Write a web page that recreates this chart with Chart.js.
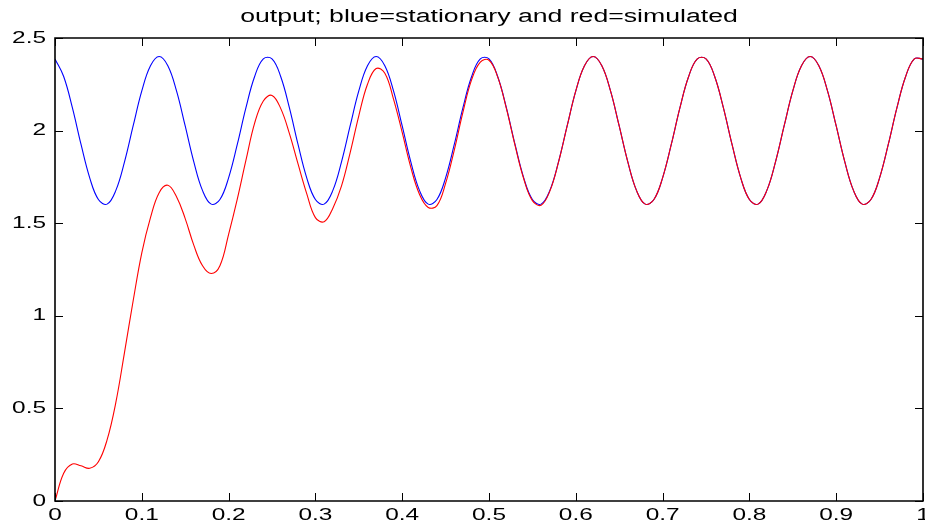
<!DOCTYPE html>
<html>
<head>
<meta charset="utf-8">
<title>output; blue=stationary and red=simulated</title>
<script src="https://cdn.jsdelivr.net/npm/chart.js@4"></script>
<style>
  html, body { margin: 0; padding: 0; background: #ffffff; }
  #output { display: block; }
</style>
</head>
<body>
<canvas id="output" width="925" height="524"></canvas>
<script>
// time samples (s)
const timeValues = [
  0.00, 0.01, 0.02, 0.03, 0.04, 0.05, 0.06, 0.07, 0.08, 0.09,
  0.10, 0.11, 0.12, 0.13, 0.14, 0.15, 0.16, 0.17, 0.18, 0.19,
  0.20, 0.21, 0.22, 0.23, 0.24, 0.25, 0.26, 0.27, 0.28, 0.29,
  0.30, 0.31, 0.32, 0.33, 0.34, 0.35, 0.36, 0.37, 0.38, 0.39,
  0.40, 0.41, 0.42, 0.43, 0.44, 0.45, 0.46, 0.47, 0.48, 0.49,
  0.50, 0.51, 0.52, 0.53, 0.54, 0.55, 0.56, 0.57, 0.58, 0.59,
  0.60, 0.61, 0.62, 0.63, 0.64, 0.65, 0.66, 0.67, 0.68, 0.69,
  0.70, 0.71, 0.72, 0.73, 0.74, 0.75, 0.76, 0.77, 0.78, 0.79,
  0.80, 0.81, 0.82, 0.83, 0.84, 0.85, 0.86, 0.87, 0.88, 0.89,
  0.90, 0.91, 0.92, 0.93, 0.94, 0.95, 0.96, 0.97, 0.98, 0.99,
  1.00
];

// blue = stationary output
const stationaryValues = [
  2.387, 2.292, 2.124, 1.925, 1.745, 1.628, 1.603, 1.676, 1.830, 2.025,
  2.214, 2.350, 2.400, 2.350, 2.214, 2.025, 1.830, 1.676, 1.603, 1.628,
  1.745, 1.925, 2.124, 2.292, 2.387, 2.387, 2.292, 2.124, 1.925, 1.745,
  1.628, 1.603, 1.676, 1.830, 2.025, 2.214, 2.350, 2.400, 2.350, 2.214,
  2.025, 1.830, 1.676, 1.603, 1.628, 1.745, 1.925, 2.124, 2.292, 2.387,
  2.387, 2.292, 2.124, 1.925, 1.745, 1.628, 1.603, 1.676, 1.830, 2.025,
  2.214, 2.350, 2.400, 2.350, 2.214, 2.025, 1.830, 1.676, 1.603, 1.628,
  1.745, 1.925, 2.124, 2.292, 2.387, 2.387, 2.292, 2.124, 1.925, 1.745,
  1.628, 1.603, 1.676, 1.830, 2.025, 2.214, 2.350, 2.400, 2.350, 2.214,
  2.025, 1.830, 1.676, 1.603, 1.628, 1.745, 1.925, 2.124, 2.292, 2.387,
  2.387
];

// red = simulated output
const simulatedValues = [
  0.000, 0.150, 0.200, 0.190, 0.177, 0.212, 0.330, 0.530, 0.800, 1.080,
  1.340, 1.530, 1.665, 1.705, 1.643, 1.525, 1.380, 1.270, 1.228, 1.270,
  1.440, 1.630, 1.840, 2.040, 2.160, 2.190, 2.120, 1.985, 1.820, 1.660,
  1.530, 1.508, 1.580, 1.700, 1.880, 2.080, 2.250, 2.335, 2.310, 2.170,
  1.990, 1.800, 1.655, 1.585, 1.595, 1.715, 1.895, 2.100, 2.275, 2.370,
  2.380, 2.290, 2.120, 1.920, 1.740, 1.622, 1.597, 1.672, 1.828, 2.024,
  2.214, 2.350, 2.400, 2.350, 2.214, 2.025, 1.830, 1.676, 1.603, 1.628,
  1.745, 1.925, 2.124, 2.292, 2.387, 2.387, 2.292, 2.124, 1.925, 1.745,
  1.628, 1.603, 1.676, 1.830, 2.025, 2.214, 2.350, 2.400, 2.350, 2.214,
  2.025, 1.830, 1.676, 1.603, 1.628, 1.745, 1.925, 2.124, 2.292, 2.387,
  2.387
];

const xTickLabels = ['0', '0.1', '0.2', '0.3', '0.4', '0.5', '0.6', '0.7', '0.8', '0.9', '1'];
const yTickLabels = ['0', '0.5', '1', '1.5', '2', '2.5'];

const FONT = "'Liberation Sans', Arial, Helvetica, sans-serif";

function toPoints(xs, ys) {
    return xs.map((x, i) => ({ x: x, y: ys[i] }));
}

// the original figure was exported with horizontally widened lettering;
// widen every text draw around its own anchor point
const wideText = {
    id: 'wideText',
    beforeInit: function(chart) {
        const ctx = chart.ctx;
        const plainFill = ctx.fillText;
        ctx.fillText = function(text, x, y, maxWidth) {
            this.save();
            this.translate(x, y);
            this.scale(1.48, 1);
            plainFill.call(this, text, 0, 0);
            this.restore();
        };
    }
};

// MATLAB-like box with inward tick marks on all four sides
const matlabBox = {
    id: 'matlabBox',
    afterDraw: function(chart) {
        const ctx = chart.ctx;
        const a = chart.chartArea;
        const xs = chart.scales.x;
        const ys = chart.scales.y;
        const tick = 8;
        ctx.save();
        ctx.strokeStyle = '#000000';
        ctx.lineWidth = 1;
        ctx.beginPath();
        xs.ticks.forEach(t => {
            const px = Math.round(xs.getPixelForValue(t.value)) + 0.5;
            ctx.moveTo(px, a.bottom);
            ctx.lineTo(px, a.bottom - tick);
            ctx.moveTo(px, a.top);
            ctx.lineTo(px, a.top + tick);
        });
        ys.ticks.forEach(t => {
            const py = Math.round(ys.getPixelForValue(t.value)) + 0.5;
            ctx.moveTo(a.left, py);
            ctx.lineTo(a.left + tick, py);
            ctx.moveTo(a.right, py);
            ctx.lineTo(a.right - tick, py);
        });
        ctx.stroke();

        ctx.lineWidth = 1.6;
        ctx.beginPath();
        ctx.rect(a.left, a.top, a.right - a.left, a.bottom - a.top);
        ctx.stroke();
        ctx.restore();
    }
};

function initOutputChart() {
    const canvas = document.getElementById('output');
    if (!canvas || typeof Chart === 'undefined') {
        console.error('Chart.js or canvas missing');
        return;
    }

    const config = {
        type: 'line',
        data: {
            datasets: [
                {
                    label: 'simulated',
                    data: toPoints(timeValues, simulatedValues),
                    borderColor: '#ff0000',
                    borderWidth: 1.1,
                    pointRadius: 0,
                    tension: 0.4,
                    fill: false,
                    order: 0
                },
                {
                    label: 'stationary',
                    data: toPoints(timeValues, stationaryValues),
                    borderColor: '#0000ff',
                    borderWidth: 1.1,
                    pointRadius: 0,
                    tension: 0.4,
                    fill: false,
                    order: 1
                }
            ]
        },
        options: {
            responsive: false,
            animation: false,
            events: [],
            layout: {
                padding: { top: 0, right: 2, bottom: 0, left: 0 }
            },
            plugins: {
                legend: { display: false },
                tooltip: { enabled: false },
                title: {
                    display: true,
                    text: 'output; blue=stationary and red=simulated',
                    fullSize: false,
                    color: '#000000',
                    font: { size: 18, weight: 'normal', family: FONT },
                    padding: { top: 6, bottom: 10.4 }
                }
            },
            scales: {
                x: {
                    type: 'linear',
                    min: 0,
                    max: 1,
                    border: { display: false },
                    grid: { display: false, drawTicks: false },
                    ticks: {
                        stepSize: 0.1,
                        autoSkip: false,
                        maxRotation: 0,
                        padding: 5,
                        color: '#000000',
                        font: { size: 16.5, family: FONT },
                        callback: function(value, index) {
                            return xTickLabels[index];
                        }
                    },
                    afterFit: function(scale) {
                        scale.height = 23;
                        scale.paddingLeft = 0;
                        scale.paddingRight = 0;
                    }
                },
                y: {
                    type: 'linear',
                    min: 0,
                    max: 2.5,
                    border: { display: false },
                    grid: { display: false, drawTicks: false },
                    ticks: {
                        stepSize: 0.5,
                        autoSkip: false,
                        padding: 9,
                        color: '#000000',
                        font: { size: 16.5, family: FONT },
                        callback: function(value, index) {
                            return yTickLabels[index];
                        }
                    },
                    afterFit: function(scale) {
                        scale.width = 55;
                        scale.paddingTop = 0;
                        scale.paddingBottom = 0;
                    }
                }
            }
        },
        plugins: [wideText, matlabBox]
    };

    window.outputChart = new Chart(canvas, config);
}

document.addEventListener('DOMContentLoaded', initOutputChart);
</script>
</body>
</html>
